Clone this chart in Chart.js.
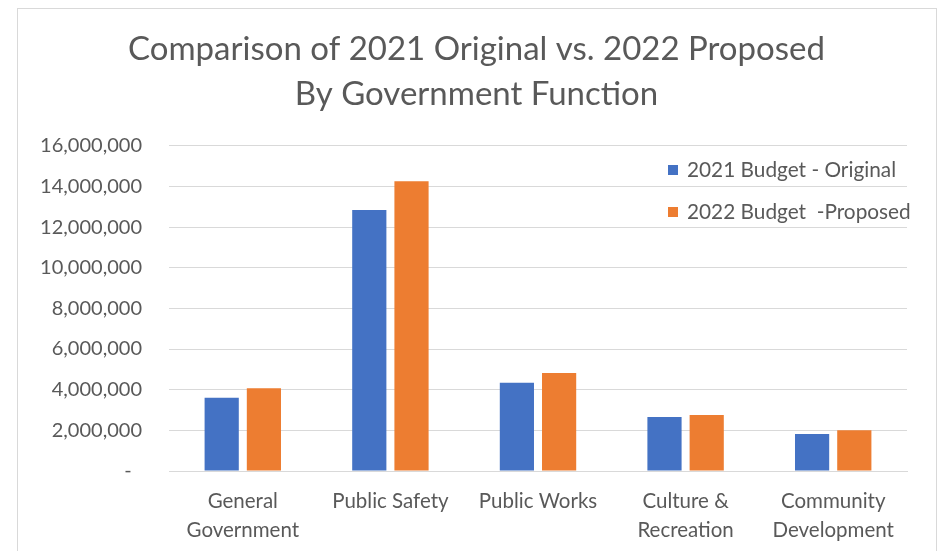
<!DOCTYPE html>
<html>
<head>
<meta charset="utf-8">
<title>Budget Comparison</title>
<script src="https://cdn.jsdelivr.net/npm/chart.js@4"></script>
<style>
  html, body { margin: 0; padding: 0; background: #fff; overflow: hidden; }
  #wrap { position: relative; width: 943px; height: 551px; }
  #frame {
    position: absolute; left: 17px; top: 8px; width: 918px; height: 600px;
    border: 1px solid #d9d9d9; pointer-events: none;
  }
</style>
</head>
<body>
<div id="wrap">
  <canvas id="budget-chart" width="943" height="551"></canvas>
  <div id="frame"></div>
</div>
<script>
// budget by government function
var functions = [["General", "Government"], ["Public Safety"], ["Public Works"], ["Culture &", "Recreation"], ["Community", "Development"]];
var original2021 = [3600000, 12840000, 4340000, 2660000, 1820000];
var proposed2022 = [4070000, 14250000, 4820000, 2750000, 2000000];
var seriesNames = ["2021 Budget - Original", "2022 Budget  -Proposed"];
var yMax = 16000000;
var yStep = 2000000;

var FONT = "Lato, 'Liberation Sans', sans-serif";
var GREY = '#595959';

// legend drawn inside the plot, top right, stacked
var insideLegend = {
    id: 'insideLegend',
    afterDraw: function(chart) {
        var ctx = chart.ctx;
        ctx.save();
        ctx.font = '20.8px ' + FONT;
        ctx.textBaseline = 'middle';
        chart.data.datasets.forEach(function(ds, i) {
            var y = 170 + i * 42;
            ctx.fillStyle = ds.backgroundColor;
            ctx.fillRect(668, y - 5, 10, 10);
            ctx.fillStyle = GREY;
            ctx.fillText(ds.label, 687, y);
        });
        ctx.restore();
    }
};

new Chart(document.getElementById("budget-chart"), {
    type: 'bar',
    data: {
        labels: functions,
        datasets: [
            {
                label: seriesNames[0],
                backgroundColor: '#4472C4',
                data: original2021,
                categoryPercentage: 0.572,
                barPercentage: 0.81
            },
            {
                label: seriesNames[1],
                backgroundColor: '#ED7D31',
                data: proposed2022,
                categoryPercentage: 0.572,
                barPercentage: 0.81
            }
        ]
    },
    options: {
        responsive: false,
        animation: false,
        // title centred over the framed area (17..936)
        layout: { padding: { left: 17, right: 7, top: 0, bottom: 0 } },
        plugins: {
            legend: { display: false },
            tooltip: { enabled: false },
            title: {
                display: true,
                text: ["Comparison of 2021 Original vs. 2022 Proposed", "By Government Function"],
                color: GREY,
                font: { family: FONT, size: 33, weight: 'normal', lineHeight: 1.39 },
                padding: { top: 26, bottom: 28 }
            }
        },
        scales: {
            x: {
                grid: { display: false },
                border: { color: '#d9d9d9' },
                ticks: {
                    color: GREY,
                    padding: 8,
                    font: { family: FONT, size: 20.5, lineHeight: 1.4 },
                    maxRotation: 0,
                    autoSkip: false
                },
                afterFit: function(scale) { scale.height = 80; }
            },
            y: {
                min: 0,
                max: yMax,
                border: { display: false },
                grid: { color: '#d9d9d9', drawTicks: false },
                ticks: {
                    stepSize: yStep,
                    color: GREY,
                    padding: 27,
                    font: { family: FONT, size: 20 },
                    callback: function(v) {
                        return v === 0 ? '-  ' : v.toLocaleString('en-US');
                    }
                },
                afterFit: function(scale) { scale.width = 152; }
            },
            // empty right margin between plot and frame
            spacer: {
                type: 'linear',
                position: 'right',
                grid: { display: false },
                border: { display: false },
                ticks: { display: false },
                afterFit: function(scale) { scale.width = 29; }
            }
        }
    },
    plugins: [insideLegend]
});
</script>
</body>
</html>
